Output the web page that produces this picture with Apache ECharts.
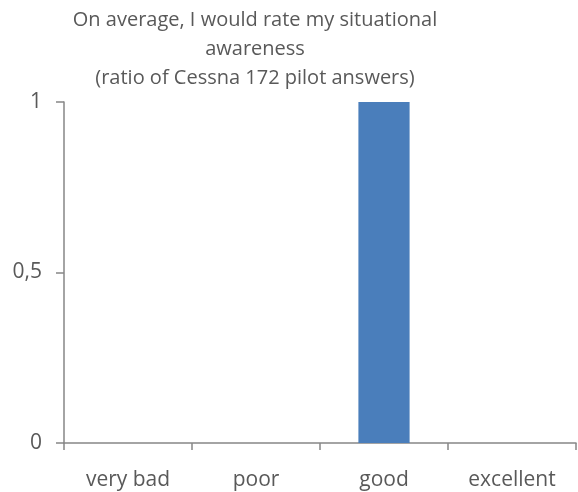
<!DOCTYPE html>
<html>
<head>
<meta charset="utf-8">
<style>
  html, body { margin: 0; padding: 0; background: #fff; }
  #chart { width: 578px; height: 492px; }
</style>
<script src="https://cdn.jsdelivr.net/npm/echarts@6/dist/echarts.min.js"></script>
</head>
<body>
<div id="chart"></div>
<script>
// Situational awareness ratings (ratio of answers per category)
const categories = ['very bad', 'poor', 'good', 'excellent'];
const ratios = [0, 0, 1, 0];
const yTicks = [0, 0.5, 1];

const chart = echarts.init(document.getElementById('chart'), null, { renderer: 'canvas' });
const labelColor = '#595959';
const axisColor = '#868686';
const fontFamily = '"Open Sans", Lato, sans-serif';

chart.setOption({
  animation: false,
  backgroundColor: '#ffffff',
  title: {
    text: 'On average, I would rate my situational\nawareness\n(ratio of Cessna 172 pilot answers)',
    left: 250,
    top: 1,
    textAlign: 'center',
    textStyle: {
      fontFamily: fontFamily,
      fontSize: 20,
      fontWeight: 'normal',
      color: labelColor,
      lineHeight: 29
    }
  },
  grid: { left: 64, right: 2, top: 102, bottom: 49, containLabel: false },
  xAxis: {
    type: 'category',
    data: categories,
    boundaryGap: true,
    axisLine: { lineStyle: { color: axisColor, width: 1.5 } },
    axisTick: { show: true, length: 7, lineStyle: { color: axisColor, width: 1.5 } },
    axisLabel: { color: labelColor, fontFamily: fontFamily, fontSize: 21, margin: 27 },
    splitLine: { show: false }
  },
  yAxis: {
    type: 'value',
    min: yTicks[0],
    max: yTicks[yTicks.length - 1],
    interval: yTicks[1] - yTicks[0],
    axisLine: { show: true, lineStyle: { color: axisColor, width: 1.5 } },
    axisTick: { show: true, length: 8, lineStyle: { color: axisColor, width: 1.5 } },
    axisLabel: {
      color: labelColor,
      fontFamily: fontFamily,
      fontSize: 21,
      margin: 22,
      formatter: v => String(v).replace('.', ',')
    },
    splitLine: { show: false }
  },
  series: [{
    type: 'bar',
    data: ratios,
    barWidth: '40%',
    itemStyle: { color: '#4a7ebb' }
  }]
});
</script>
</body>
</html>
